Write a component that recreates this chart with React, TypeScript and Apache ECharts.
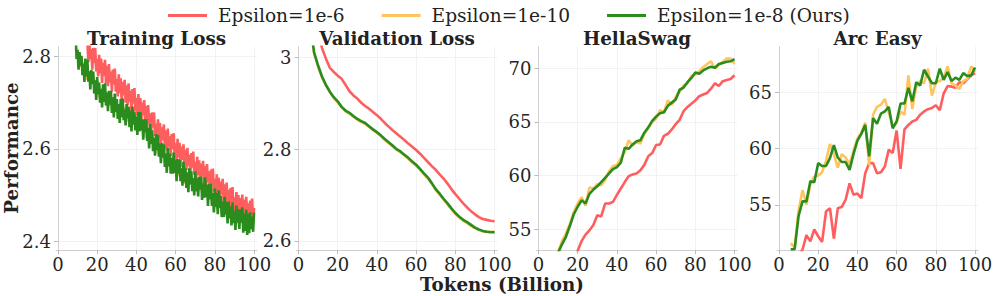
import React, { useEffect, useRef } from "react";
import * as echarts from "echarts";

const SERIES_NAMES = ["Epsilon=1e-6", "Epsilon=1e-10", "Epsilon=1e-8 (Ours)"];
const COLORS = ["#ff5e5e", "#ffc45e", "#2b8c1e"];
const TITLES = ["Training Loss", "Validation Loss", "HellaSwag", "Arc Easy"];
const X_TICKS = [0, 20, 40, 60, 80, 100];
const Y_TICKS = [
  [2.4, 2.6, 2.8],
  [2.6, 2.8, 3.0],
  [55, 60, 65, 70],
  [55, 60, 65],
];
const Y_RANGES = [
  [2.3805, 2.8217],
  [2.5804, 3.023],
  [53.07, 72.01],
  [50.98, 69.05],
];

// Training loss (x step 0.5)
const trainGreenStart = 9;
const trainGreen = [
  2.85, 2.795, 2.815, 2.772, 2.81, 2.78, 2.802, 2.76, 2.785, 2.745, 2.796, 2.757, 2.793, 2.746, 2.768, 2.729, 2.771, 2.741, 2.768, 2.72,
  2.749, 2.706, 2.756, 2.718, 2.744, 2.7, 2.73, 2.69, 2.74, 2.702, 2.742, 2.694, 2.722, 2.682, 2.726, 2.696, 2.726, 2.678, 2.712, 2.668,
  2.72, 2.68, 2.708, 2.665, 2.697, 2.656, 2.708, 2.669, 2.709, 2.662, 2.686, 2.651, 2.697, 2.666, 2.692, 2.647, 2.683, 2.638, 2.692, 2.653,
  2.681, 2.64, 2.67, 2.63, 2.68, 2.638, 2.68, 2.64, 2.664, 2.62, 2.664, 2.636, 2.664, 2.617, 2.646, 2.601, 2.654, 2.611, 2.64, 2.595,
  2.624, 2.585, 2.632, 2.597, 2.63, 2.583, 2.612, 2.569, 2.612, 2.581, 2.61, 2.561, 2.59, 2.548, 2.602, 2.562, 2.59, 2.546, 2.58, 2.546,
  2.592, 2.548, 2.576, 2.53, 2.578, 2.546, 2.576, 2.53, 2.558, 2.52, 2.572, 2.528, 2.558, 2.515, 2.549, 2.506, 2.558, 2.523, 2.551, 2.508,
  2.536, 2.499, 2.551, 2.508, 2.536, 2.497, 2.539, 2.512, 2.54, 2.489, 2.525, 2.494, 2.538, 2.496, 2.522, 2.476, 2.524, 2.49, 2.524, 2.476,
  2.504, 2.462, 2.514, 2.474, 2.504, 2.458, 2.51, 2.472, 2.498, 2.452, 2.486, 2.452, 2.496, 2.458, 2.485, 2.438, 2.486, 2.449, 2.475, 2.434,
  2.484, 2.439, 2.465, 2.424, 2.477, 2.44, 2.469, 2.426, 2.469, 2.44, 2.473, 2.418, 2.459, 2.422, 2.468, 2.413, 2.459, 2.417, 2.462, 2.426,
  2.453, 2.42, 2.462,
];
const trainRedStart = 15;
const trainRed = [
  2.833, 2.788, 2.835, 2.794, 2.817, 2.772, 2.819, 2.786, 2.819, 2.768, 2.795, 2.757, 2.804, 2.764, 2.796, 2.743, 2.787, 2.759, 2.793, 2.742,
  2.78, 2.736, 2.784, 2.744, 2.768, 2.724, 2.772, 2.74, 2.774, 2.724, 2.752, 2.714, 2.762, 2.721, 2.753, 2.701, 2.745, 2.716, 2.75, 2.7,
  2.738, 2.694, 2.742, 2.702, 2.726, 2.682, 2.73, 2.698, 2.732, 2.682, 2.71, 2.672, 2.719, 2.679, 2.71, 2.658, 2.701, 2.673, 2.706, 2.656,
  2.693, 2.648, 2.695, 2.654, 2.677, 2.632, 2.679, 2.646, 2.679, 2.628, 2.655, 2.617, 2.664, 2.624, 2.656, 2.604, 2.647, 2.619, 2.653, 2.602,
  2.64, 2.596, 2.644, 2.604, 2.628, 2.584, 2.632, 2.6, 2.634, 2.584, 2.612, 2.574, 2.622, 2.581, 2.613, 2.561, 2.605, 2.576, 2.61, 2.56,
  2.598, 2.554, 2.602, 2.563, 2.587, 2.543, 2.591, 2.559, 2.594, 2.544, 2.572, 2.534, 2.583, 2.543, 2.575, 2.523, 2.568, 2.54, 2.574, 2.525,
  2.563, 2.519, 2.567, 2.527, 2.551, 2.507, 2.555, 2.523, 2.557, 2.507, 2.535, 2.497, 2.545, 2.505, 2.537, 2.485, 2.529, 2.501, 2.535, 2.485,
  2.523, 2.479, 2.527, 2.487, 2.511, 2.467, 2.515, 2.483, 2.517, 2.467, 2.495, 2.458, 2.506, 2.467, 2.5, 2.448, 2.493, 2.466, 2.501, 2.451,
  2.49, 2.447, 2.496, 2.457, 2.482, 2.439, 2.488, 2.457, 2.492, 2.443, 2.472,
];
const trainOrangeStart = 9;
const trainOrange = [
  2.818, 2.808, 2.778, 2.796, 2.773, 2.784, 2.749, 2.763, 2.742, 2.757, 2.725, 2.738, 2.711, 2.732, 2.712, 2.726, 2.694, 2.711, 2.693, 2.711,
  2.682, 2.698, 2.672, 2.694, 2.675, 2.69, 2.659, 2.677, 2.66, 2.679, 2.651, 2.668, 2.641, 2.662, 2.642, 2.656, 2.624, 2.639, 2.619, 2.635,
  2.604, 2.618, 2.589, 2.608, 2.586, 2.598, 2.564, 2.581, 2.563, 2.581, 2.552, 2.568, 2.541, 2.562, 2.542, 2.556, 2.524, 2.542, 2.525, 2.544,
  2.516, 2.533, 2.507, 2.529, 2.51, 2.525, 2.494, 2.511, 2.493, 2.511, 2.482, 2.498, 2.471, 2.492, 2.472, 2.486, 2.454, 2.472, 2.455, 2.474,
  2.446, 2.463, 2.438, 2.461, 2.443, 2.459, 2.429, 2.449, 2.434, 2.455, 2.429, 2.448,
];

// Validation loss (x step 2)
const valX = [6, 8, 10, 12, 14, 16, 18, 20, 22, 24, 26, 28, 30, 32, 34, 36, 38, 40, 42, 44, 46, 48, 50, 52, 54, 56, 58, 60, 62, 64, 66, 68, 70, 72, 74, 76, 78, 80, 82, 84, 86, 88, 90, 92, 94, 96, 98, 100];
const valGreen = [3.07, 3.01, 2.982, 2.958, 2.94, 2.925, 2.913, 2.904, 2.892, 2.884, 2.879, 2.872, 2.866, 2.861, 2.857, 2.85, 2.843, 2.837, 2.83, 2.822, 2.815, 2.808, 2.8, 2.795, 2.788, 2.781, 2.773, 2.766, 2.757, 2.747, 2.738, 2.726, 2.713, 2.703, 2.692, 2.682, 2.671, 2.661, 2.653, 2.646, 2.641, 2.635, 2.629, 2.625, 2.622, 2.62, 2.619, 2.619];
const valOrange = [3.068, 3.008, 2.98, 2.956, 2.938, 2.924, 2.911, 2.902, 2.891, 2.882, 2.877, 2.87, 2.864, 2.859, 2.855, 2.848, 2.841, 2.835, 2.828, 2.82, 2.813, 2.806, 2.799, 2.793, 2.786, 2.779, 2.771, 2.764, 2.755, 2.745, 2.736, 2.724, 2.711, 2.701, 2.69, 2.68, 2.669, 2.659, 2.651, 2.644, 2.639, 2.633, 2.628, 2.624, 2.621, 2.62, 2.62, 2.62];
const valRed = [3.15, 3.1, 3.06, 3.02, 2.997, 2.977, 2.968, 2.96, 2.953, 2.94, 2.926, 2.917, 2.91, 2.901, 2.894, 2.888, 2.881, 2.874, 2.866, 2.857, 2.849, 2.841, 2.834, 2.827, 2.82, 2.812, 2.805, 2.798, 2.79, 2.781, 2.772, 2.763, 2.755, 2.745, 2.736, 2.725, 2.713, 2.702, 2.692, 2.682, 2.673, 2.665, 2.658, 2.652, 2.648, 2.646, 2.644, 2.643];

// HellaSwag (x step 2)
const hsX = [10, 12, 14, 16, 18, 20, 22, 24, 26, 28, 30, 32, 34, 36, 38, 40, 42, 44, 46, 48, 50, 52, 54, 56, 58, 60, 62, 64, 66, 68, 70, 72, 74, 76, 78, 80, 82, 84, 86, 88, 90, 92, 94, 96, 98, 100];
const hsGreen = [52.8, 53.6, 54.3, 55.3, 56.4, 57.1, 57.7, 57.4, 58.3, 58.7, 59.0, 59.4, 59.8, 60.2, 60.6, 60.8, 61.2, 62.6, 62.5, 62.9, 63.2, 63.3, 64.0, 64.5, 65.1, 65.5, 65.8, 65.9, 66.5, 66.8, 67.1, 68.0, 68.2, 68.7, 69.1, 69.6, 69.5, 69.8, 70.0, 70.15, 70.05, 70.4, 70.5, 70.6, 70.65, 70.85];
const hsOrange = [52.9, 53.9, 54.6, 55.5, 56.6, 57.4, 58.0, 57.2, 58.9, 58.8, 59.2, 59.1, 59.6, 60.4, 60.9, 61.0, 61.6, 62.2, 63.3, 62.8, 63.1, 63.0, 63.9, 64.4, 65.0, 65.3, 66.1, 65.9, 67.0, 66.6, 67.3, 67.8, 68.4, 68.6, 69.3, 69.4, 69.7, 70.1, 70.4, 70.65, 70.0, 70.3, 70.6, 70.9, 70.9, 70.4];
const hsRed = [50.0, 50.6, 51.2, 51.7, 52.3, 53.0, 53.9, 54.5, 54.9, 55.4, 56.3, 56.2, 57.4, 57.4, 57.55, 58.2, 58.8, 59.4, 59.95, 60.1, 60.2, 60.5, 61.0, 61.8, 62.1, 62.85, 62.9, 63.7, 63.9, 64.3, 64.8, 65.2, 66.0, 66.4, 66.7, 67.0, 67.4, 67.55, 67.7, 68.1, 68.6, 68.35, 68.8, 68.9, 69.0, 69.35];

// Arc Easy (x step 2)
const arcX = [6, 8, 10, 12, 14, 16, 18, 20, 22, 24, 26, 28, 30, 32, 34, 36, 38, 40, 42, 44, 46, 48, 50, 52, 54, 56, 58, 60, 62, 64, 66, 68, 70, 72, 74, 76, 78, 80, 82, 84, 86, 88, 90, 92, 94, 96, 98, 100];
const arcGreen = [51.05, 51.05, 54.0, 55.3, 55.3, 57.1, 57.0, 58.7, 58.45, 58.45, 59.15, 60.3, 59.2, 58.8, 58.8, 58.1, 59.5, 60.7, 61.3, 62.1, 59.3, 62.7, 62.2, 63.1, 63.3, 63.7, 61.8, 62.4, 64.0, 64.0, 65.4, 64.2, 65.9, 65.6, 67.0, 66.4, 65.8, 65.8, 67.1, 66.1, 66.8, 66.0, 66.3, 66.1, 66.7, 66.45, 66.5, 67.2];
const arcOrange = [51.6, 51.2, 54.5, 56.3, 55.0, 56.8, 57.5, 57.6, 57.9, 58.9, 60.4, 59.5, 58.3, 59.5, 59.2, 58.6, 59.8, 60.9, 61.4, 62.3, 58.5, 63.0, 63.7, 63.9, 64.4, 63.2, 61.9, 62.3, 63.3, 63.0, 66.5, 63.5, 65.5, 66.0, 65.8, 67.1, 64.7, 65.9, 66.0, 66.3, 67.3, 65.8, 65.6, 65.3, 66.0, 66.2, 67.3, 66.8];
const arcRed = [49.0, 49.5, 50.5, 51.0, 52.3, 51.75, 52.8, 52.2, 51.7, 54.4, 54.7, 52.0, 54.7, 54.8, 55.45, 56.9, 55.9, 56.0, 55.6, 57.8, 58.7, 58.7, 57.8, 57.9, 58.4, 59.9, 59.6, 61.6, 58.2, 61.7, 62.1, 62.4, 62.55, 63.0, 63.3, 63.5, 63.6, 63.85, 63.4, 64.9, 65.55, 65.5, 65.4, 65.9, 65.8, 66.15, 66.5, 66.7];

const FONT = "DejaVu Serif";

function stepPairs(start: number, step: number, ys: number[]) {
  return ys.map((y, i) => [start + i * step, y]);
}
function zipPairs(xs: number[], ys: number[]) {
  return ys.map((y, i) => [xs[i], y]);
}

export default function App() {
  const ref = useRef<HTMLDivElement>(null);
  useEffect(() => {
    if (!ref.current) return;
    const chart = echarts.init(ref.current, undefined, { renderer: "svg" });
    const lefts = [56, 296.5, 536.5, 777];
    const gridW = 201;
    const gridTop = 46.7;
    const gridH = 203.3;

    const panels = [
      [stepPairs(trainRedStart, 0.5, trainRed), stepPairs(trainOrangeStart, 1, trainOrange), stepPairs(trainGreenStart, 0.5, trainGreen)],
      [zipPairs(valX, valRed), zipPairs(valX, valOrange), zipPairs(valX, valGreen)],
      [zipPairs(hsX, hsRed), zipPairs(hsX, hsOrange), zipPairs(hsX, hsGreen)],
      [zipPairs(arcX, arcRed), zipPairs(arcX, arcOrange), zipPairs(arcX, arcGreen)],
    ];

    const grid = lefts.map((l) => ({ left: l, top: gridTop, width: gridW, height: gridH }));
    const axisLineStyle = { color: "#cfcfcf", width: 1 };
    const xAxis = lefts.map((_, i) => ({
      type: "value",
      gridIndex: i,
      min: -1,
      max: 101.5,
      axisLine: { show: true, lineStyle: axisLineStyle },
      axisTick: { show: true, length: 4, lineStyle: { color: "#bbbbbb" }, customValues: X_TICKS },
      axisLabel: { show: true, customValues: X_TICKS, fontFamily: FONT, fontSize: 18, color: "#262626", margin: 5, formatter: (v: number) => String(v) },
      splitLine: { show: true, lineStyle: { color: "#f2f2f2", width: 1 } },
    }));
    const yAxis = lefts.map((_, i) => ({
      type: "value",
      gridIndex: i,
      min: Y_RANGES[i][0],
      max: Y_RANGES[i][1],
      axisLine: { show: true, lineStyle: axisLineStyle },
      axisTick: { show: true, length: 4, lineStyle: { color: "#bbbbbb" }, customValues: Y_TICKS[i] },
      axisLabel: { show: true, customValues: Y_TICKS[i], fontFamily: FONT, fontSize: 18, color: "#262626", margin: 5, formatter: (v: number) => String(Math.round(v * 100) / 100) },
      splitLine: { show: true, lineStyle: { color: "#f2f2f2", width: 1 } },
    }));

    const series: any[] = [];
    panels.forEach((p, i) => {
      p.forEach((data, k) => {
        series.push({
          type: "line",
          name: SERIES_NAMES[k],
          xAxisIndex: i,
          yAxisIndex: i,
          data,
          showSymbol: false,
          symbol: "none",
          color: COLORS[k],
          lineStyle: { color: COLORS[k], width: 2.6 },
          z: 2 + k,
          clip: true,
        });
      });
    });

    const boldStyle = { fontFamily: FONT, fontWeight: "bold", fontSize: 18.3, fill: "#222222", textAlign: "center", textVerticalAlign: "middle" };
    const graphic: any[] = [];
    TITLES.forEach((t, i) => {
      graphic.push({ type: "text", x: lefts[i] + gridW / 2, y: 38.5, style: { ...boldStyle, text: t } });
    });
    graphic.push({ type: "text", x: 11.5, y: 148, rotation: Math.PI / 2, style: { ...boldStyle, text: "Performance" } });
    graphic.push({ type: "text", x: 502, y: 284, style: { ...boldStyle, text: "Tokens (Billion)" } });

    chart.setOption({
      animation: false,
      backgroundColor: "#ffffff",
      legend: {
        show: true,
        data: SERIES_NAMES,
        left: 163,
        top: 1,
        icon: "rect",
        itemWidth: 39,
        itemHeight: 3,
        itemGap: 37,
        textStyle: { fontFamily: FONT, fontSize: 18.6, color: "#222222", padding: [0, 0, 0, 6] },
      },
      grid,
      xAxis,
      yAxis,
      series,
      graphic,
    });
    return () => chart.dispose();
  }, []);
  return <div ref={ref} style={{ position: "fixed", left: 0, top: 0, width: 996, height: 296 }} />;
}
